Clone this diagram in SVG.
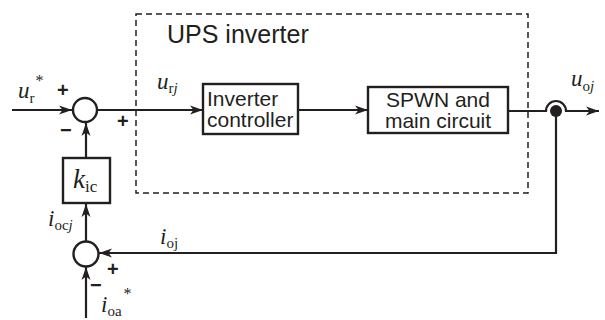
<svg xmlns="http://www.w3.org/2000/svg" width="605" height="320" viewBox="0 0 605 320">
<style>
.ln{stroke:#231f20;stroke-width:2.2;fill:none}
.bx{stroke:#231f20;stroke-width:2.4;fill:#fff}
.sum{stroke:#231f20;stroke-width:2.4;fill:#fff}
.dash{stroke:#231f20;stroke-width:1.5;fill:none;stroke-dasharray:6 4}
.sans{font-family:"Liberation Sans",Arial,sans-serif;fill:#231f20}
.math{font-family:"Liberation Serif","Times New Roman",serif;fill:#231f20}
.it{font-style:italic}
.sgn{font-family:"Liberation Sans",Arial,sans-serif;fill:#231f20;font-size:20px;font-weight:bold}
</style>
<defs>
<marker id="arr" markerUnits="userSpaceOnUse" markerWidth="14" markerHeight="10" refX="13" refY="5" orient="auto">
<path d="M0,0.5 L13,5 L0,9.5 L3.5,5 z" fill="#231f20"/>
</marker>
</defs>
<rect class="dash" x="136" y="14" width="392" height="179"/>
<text class="sans" x="167" y="43" font-size="25">UPS inverter</text>
<g id="connectors">
<line class="ln" x1="12" y1="110" x2="72" y2="110" marker-end="url(#arr)"/>
<line class="ln" x1="97" y1="110" x2="203" y2="110" marker-end="url(#arr)"/>
<line class="ln" x1="298" y1="110" x2="368" y2="110" marker-end="url(#arr)"/>
<path class="ln" d="M508,111 H546 A10,10 0 0 1 566,111 H599" marker-end="url(#arr)"/>
<circle cx="556" cy="111" r="6" fill="#231f20"/>
<path class="ln" d="M556,111 V253 H99" marker-end="url(#arr)"/>
<line class="ln" x1="86" y1="158" x2="86" y2="123" marker-end="url(#arr)"/>
<line class="ln" x1="86" y1="241" x2="86" y2="204" marker-end="url(#arr)"/>
<line class="ln" x1="86" y1="318" x2="86" y2="267" marker-end="url(#arr)"/>
</g>
<g id="sum1"><circle class="sum" cx="85" cy="110" r="12"/></g>
<g id="sum2"><circle class="sum" cx="86" cy="254" r="12.5"/></g>
<g id="kic">
<rect class="bx" x="63" y="158" width="47" height="45"/>
<text class="math" x="73" y="188"><tspan class="it" font-size="27">k</tspan><tspan font-size="17" dy="4">ic</tspan></text>
</g>
<g id="inverter-controller">
<rect class="bx" x="203" y="84" width="95" height="50"/>
<text class="sans" font-size="21" x="207" y="106">Inverter</text>
<text class="sans" font-size="21" x="207" y="127">controller</text>
</g>
<g id="spwn">
<rect class="bx" x="368" y="87" width="140" height="46"/>
<text class="sans" font-size="21" x="438" y="107" text-anchor="middle">SPWN and</text>
<text class="sans" font-size="21" x="438" y="128" text-anchor="middle">main circuit</text>
</g>
<text class="math" x="18" y="98"><tspan class="it" font-size="23">u</tspan><tspan font-size="15" dy="5">r</tspan><tspan font-size="16" dy="-17" dx="1">*</tspan></text>
<text class="sgn" x="57" y="97">+</text>
<text class="sgn" x="60" y="137">−</text>
<text class="sgn" x="117" y="128">+</text>
<text class="math" x="157" y="89"><tspan class="it" font-size="23">u</tspan><tspan font-size="15" dy="4">r</tspan><tspan class="it" font-size="15">j</tspan></text>
<text class="math" x="571" y="86"><tspan class="it" font-size="23">u</tspan><tspan font-size="15" dy="5">o</tspan><tspan class="it" font-size="15">j</tspan></text>
<text class="math" x="48" y="226"><tspan class="it" font-size="23">i</tspan><tspan font-size="15" dy="4">oc</tspan><tspan class="it" font-size="15">j</tspan></text>
<text class="math" x="160" y="244"><tspan class="it" font-size="23">i</tspan><tspan font-size="15" dy="4">oj</tspan></text>
<text class="sgn" x="107" y="276">+</text>
<text class="sgn" x="90" y="292">−</text>
<text class="math" x="101" y="312"><tspan class="it" font-size="23">i</tspan><tspan font-size="15" dy="4">oa</tspan><tspan font-size="16" dy="-17" dx="2">*</tspan></text>
</svg>
